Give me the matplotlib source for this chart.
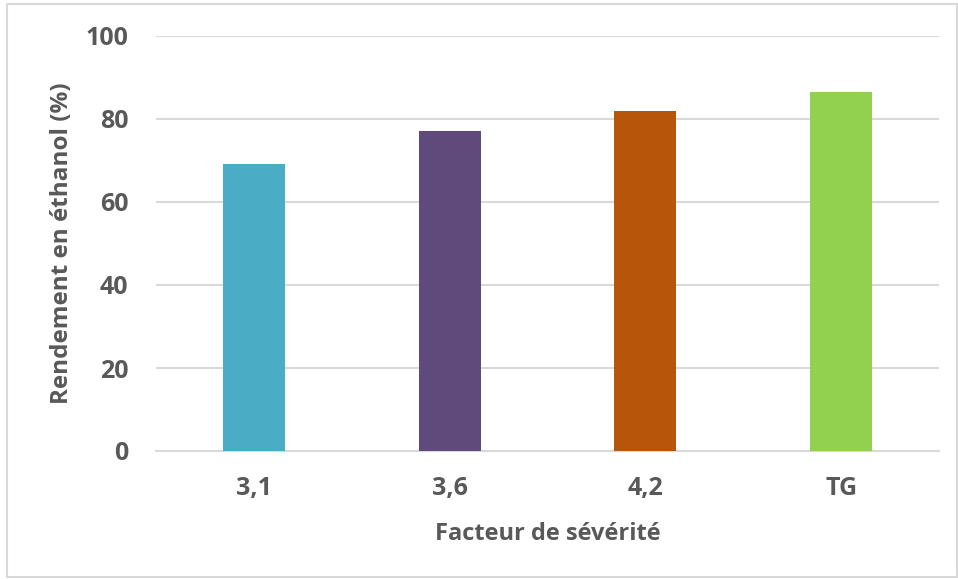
import matplotlib

matplotlib.use("Agg")
import matplotlib.pyplot as plt
import numpy as np

categories = ["3,1", "3,6", "4,2", "TG"]
rendement = [69.2, 77.1, 81.9, 86.5]
bar_colors = ["#4BACC6", "#604A7B", "#B7560A", "#92D050"]
y_ticks = [0, 20, 40, 60, 80, 100]

TEXT = "#595959"
GRID = "#D9D9D9"

plt.rcParams["font.family"] = ["Open Sans", "DejaVu Sans"]
plt.rcParams["font.weight"] = "bold"

fig = plt.figure(figsize=(9.58, 5.79), dpi=100)
ax = fig.add_axes([156 / 958, 1 - 451 / 579, (939 - 156) / 958, (451 - 36) / 579])

x = np.arange(len(categories))
ax.bar(x, rendement, width=0.317, color=bar_colors, zorder=3)

ax.set_xlim(-0.5, len(categories) - 0.5)
ax.set_ylim(0, 100)
ax.set_yticks(y_ticks)
ax.set_xticks(x)
ax.set_xticklabels(categories)
ax.tick_params(axis="both", length=0, labelsize=18, colors=TEXT)
ax.tick_params(axis="x", pad=18)
ax.tick_params(axis="y", pad=20)
for lab in ax.get_xticklabels() + ax.get_yticklabels():
    lab.set_fontweight("bold")

ax.yaxis.grid(True, color=GRID, linewidth=1.5)
ax.set_axisbelow(True)
for side in ["top", "right", "left"]:
    ax.spines[side].set_visible(False)
ax.spines["bottom"].set_color(GRID)
ax.spines["bottom"].set_linewidth(1.5)

ax.set_ylabel("Rendement en éthanol (%)", fontsize=17.5, fontweight="bold", color=TEXT, labelpad=8)
ax.set_xlabel("Facteur de sévérité", fontsize=17, fontweight="bold", color=TEXT, labelpad=15)

# outer chart border
fig.patches.append(plt.Rectangle((7 / 958, 2 / 579), 950 / 958, 573 / 579, transform=fig.transFigure,
                                 fill=False, edgecolor=GRID, linewidth=1.5))

fig.savefig("out.png", dpi=100)
